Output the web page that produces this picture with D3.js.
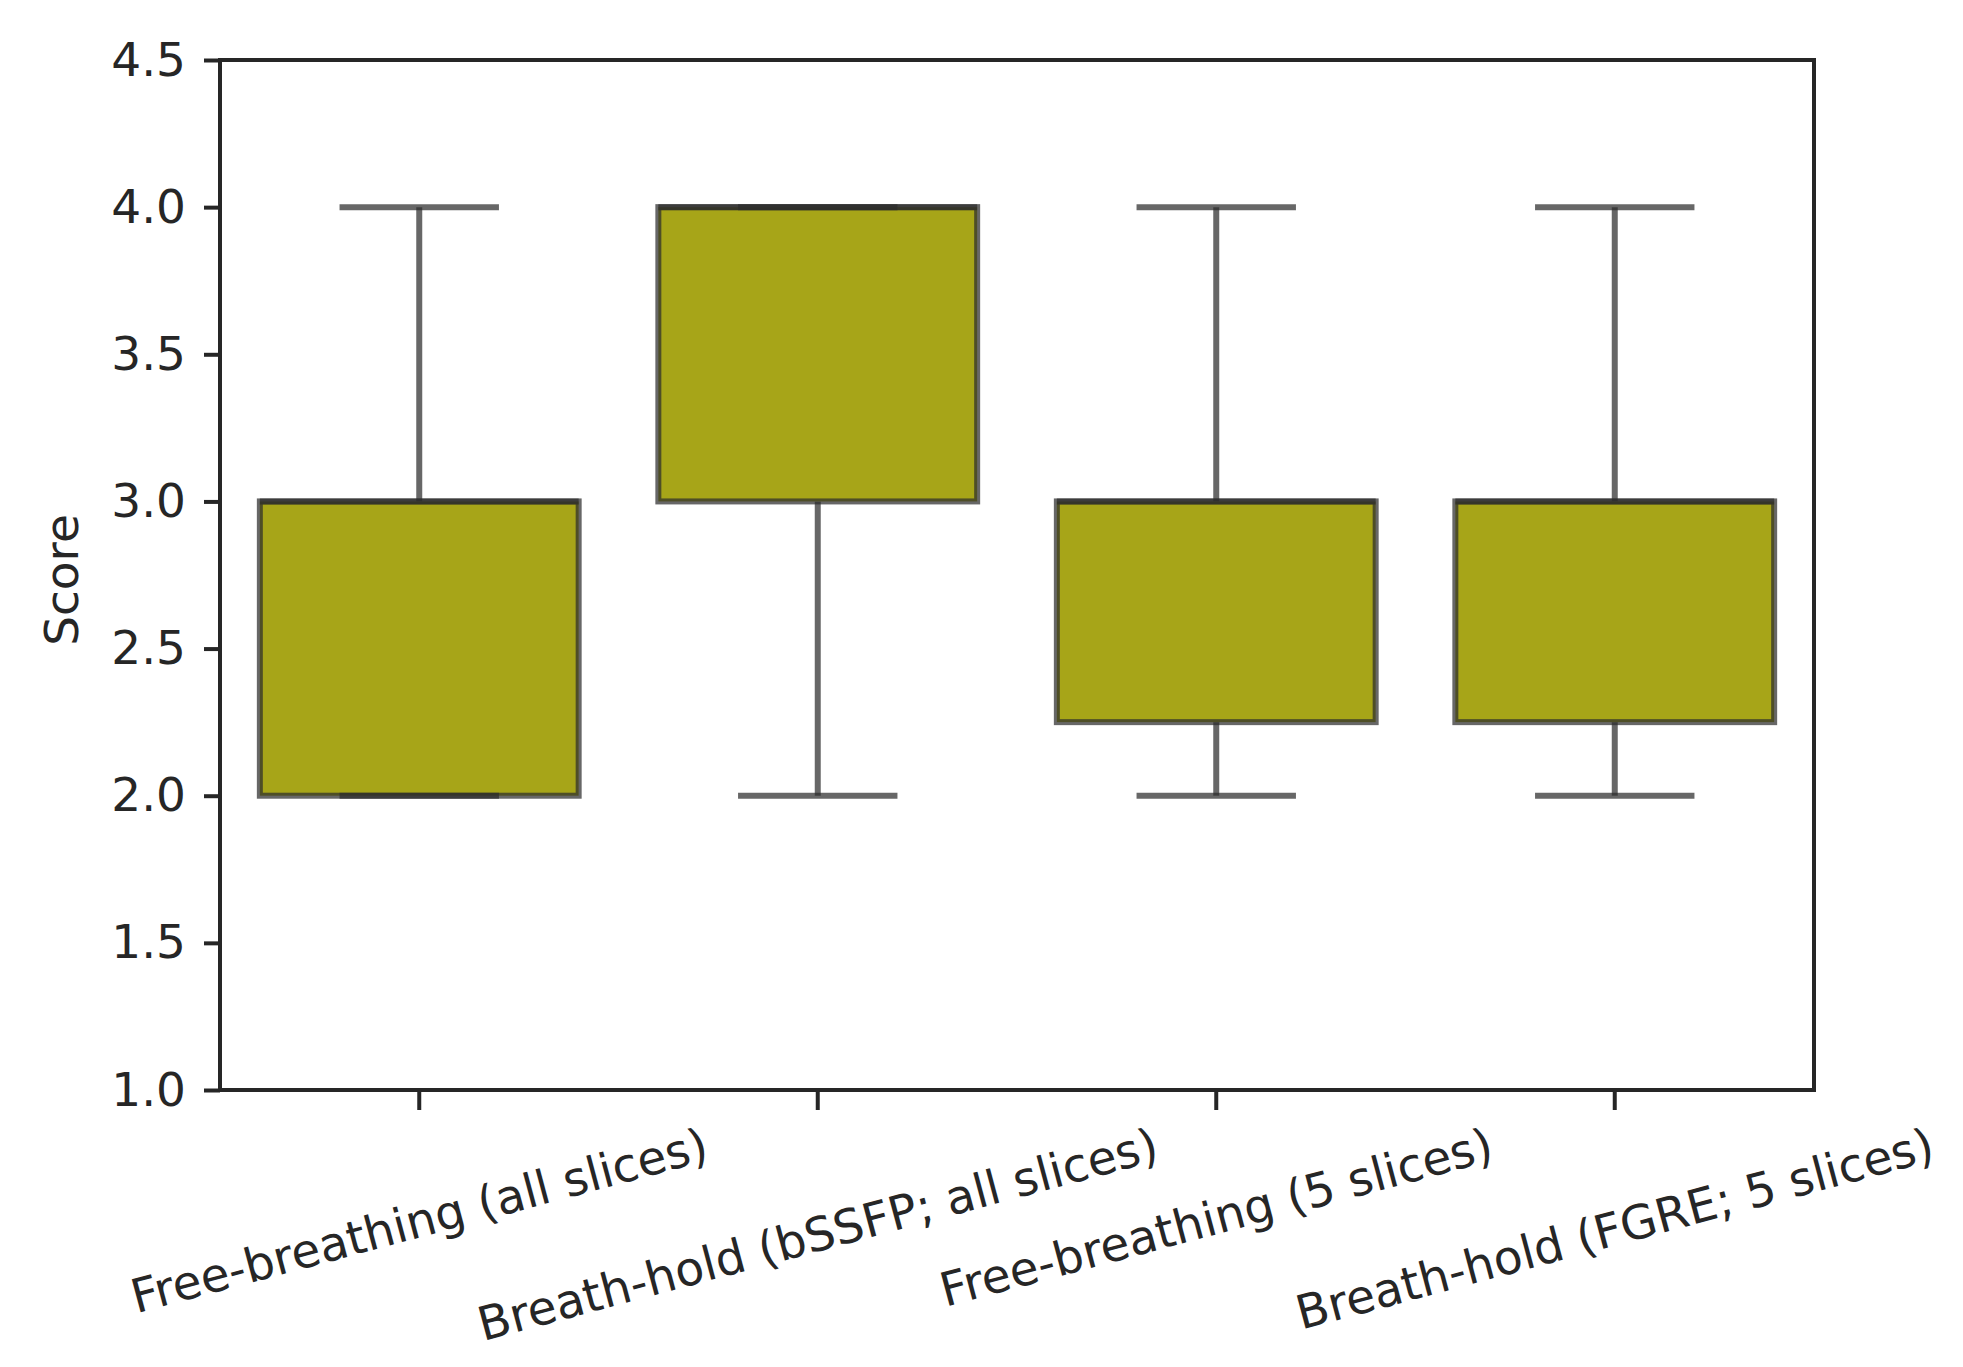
<!DOCTYPE html>
<html>
<head>
    <meta charset="utf-8">
    <title>Score boxplot</title>
    <style>
        body { margin: 0; background: #fff; }
        svg { display: block; }
        text { font-family: 'DejaVu Sans', sans-serif; fill: #262626; }
    </style>
    <script src="https://d3js.org/d3.v7.min.js"></script>
</head>
<body>
    <svg id="chart" width="1963" height="1367"></svg>

    <script>
    // data
    var categories = [
        "Free-breathing (all slices)",
        "Breath-hold (bSSFP; all slices)",
        "Free-breathing (5 slices)",
        "Breath-hold (FGRE; 5 slices)"
    ];
    var whiskerLow  = [2, 2, 2, 2];
    var q1          = [2, 3, 2.25, 2.25];
    var medians     = [3, 4, 3, 3];
    var q3          = [3, 4, 3, 3];
    var whiskerHigh = [4, 4, 4, 4];
    var yTicks = [1.0, 1.5, 2.0, 2.5, 3.0, 3.5, 4.0, 4.5];

    // plot area (window.top is read-only, so no plain "top" here)
    var plotL = 220, plotR = 1814, plotT = 60, plotB = 1090;
    var fontSize = 47;
    var lineCol = "rgba(45,45,45,0.72)";
    var lineW = 6;

    var svg = d3.select("#chart");

    var x = d3.scaleBand().domain(categories).range([plotL, plotR]).padding(0);
    var y = d3.scaleLinear().domain([1.0, 4.5]).range([plotB, plotT]);

    var bw = x.bandwidth();

    var boxes = categories.map(function (c, i) {
        return { cat: c, lo: whiskerLow[i], q1: q1[i], med: medians[i], q3: q3[i], hi: whiskerHigh[i] };
    });

    var g = svg.append("g");

    // whiskers
    g.selectAll(".wlow").data(boxes).enter().append("line")
        .attr("x1", d => x(d.cat) + bw / 2).attr("x2", d => x(d.cat) + bw / 2)
        .attr("y1", d => y(d.q1)).attr("y2", d => y(d.lo))
        .attr("stroke", lineCol).attr("stroke-width", lineW);
    g.selectAll(".whigh").data(boxes).enter().append("line")
        .attr("x1", d => x(d.cat) + bw / 2).attr("x2", d => x(d.cat) + bw / 2)
        .attr("y1", d => y(d.q3)).attr("y2", d => y(d.hi))
        .attr("stroke", lineCol).attr("stroke-width", lineW);

    // boxes
    g.selectAll("rect.box").data(boxes).enter().append("rect")
        .attr("class", "box")
        .attr("x", d => x(d.cat) + bw * 0.1)
        .attr("width", bw * 0.8)
        .attr("y", d => y(d.q3))
        .attr("height", d => y(d.q1) - y(d.q3))
        .attr("fill", "#a7a518")
        .attr("stroke", lineCol)
        .attr("stroke-width", lineW);

    // caps
    ["lo", "hi"].forEach(function (k) {
        g.selectAll(".cap-" + k).data(boxes).enter().append("line")
            .attr("x1", d => x(d.cat) + bw * 0.3).attr("x2", d => x(d.cat) + bw * 0.7)
            .attr("y1", d => y(d[k])).attr("y2", d => y(d[k]))
            .attr("stroke", lineCol).attr("stroke-width", lineW);
    });

    // medians
    g.selectAll(".med").data(boxes).enter().append("line")
        .attr("x1", d => x(d.cat) + bw * 0.1).attr("x2", d => x(d.cat) + bw * 0.9)
        .attr("y1", d => y(d.med)).attr("y2", d => y(d.med))
        .attr("stroke", lineCol).attr("stroke-width", lineW);

    // frame
    svg.append("rect")
        .attr("x", plotL).attr("y", plotT)
        .attr("width", plotR - plotL).attr("height", plotB - plotT)
        .attr("fill", "none").attr("stroke", "#262626").attr("stroke-width", 4);

    // y axis
    var yAxis = svg.append("g")
        .attr("transform", "translate(" + plotL + ",0)")
        .call(d3.axisLeft(y).tickValues(yTicks).tickFormat(d3.format(".1f"))
              .tickSize(16).tickPadding(18));
    yAxis.select(".domain").remove();
    yAxis.selectAll(".tick line").attr("stroke", "#262626").attr("stroke-width", 4);
    yAxis.selectAll(".tick text").attr("font-size", fontSize).attr("fill", "#262626")
        .style("font-family", "'DejaVu Sans', sans-serif");

    // x axis
    var xAxis = svg.append("g")
        .attr("transform", "translate(0," + plotB + ")")
        .call(d3.axisBottom(x).tickSize(20).tickFormat(""));
    xAxis.select(".domain").remove();
    xAxis.selectAll(".tick line").attr("stroke", "#262626").attr("stroke-width", 4);

    // rotated category labels, centred under the ticks
    var angle = 15, rad = angle * Math.PI / 180;
    var labelTop = 1122;
    categories.forEach(function (c) {
        var t = svg.append("text")
            .attr("font-size", fontSize)
            .attr("text-anchor", "middle")
            .attr("dominant-baseline", "central")
            .text(c);
        var bb = t.node().getBBox();
        var h = fontSize * 0.95;
        var H = bb.width * Math.sin(rad) + h * Math.cos(rad);
        var cx = x(c) + bw / 2, cy = labelTop + H / 2;
        t.attr("transform", "translate(" + cx + "," + cy + ") rotate(" + (-angle) + ")");
    });

    // y label
    svg.append("text")
        .attr("font-size", fontSize)
        .attr("text-anchor", "middle")
        .attr("dominant-baseline", "central")
        .attr("transform", "translate(61," + ((plotT + plotB) / 2 + 5) + ") rotate(-90)")
        .text("Score");
    </script>
</body>
</html>
